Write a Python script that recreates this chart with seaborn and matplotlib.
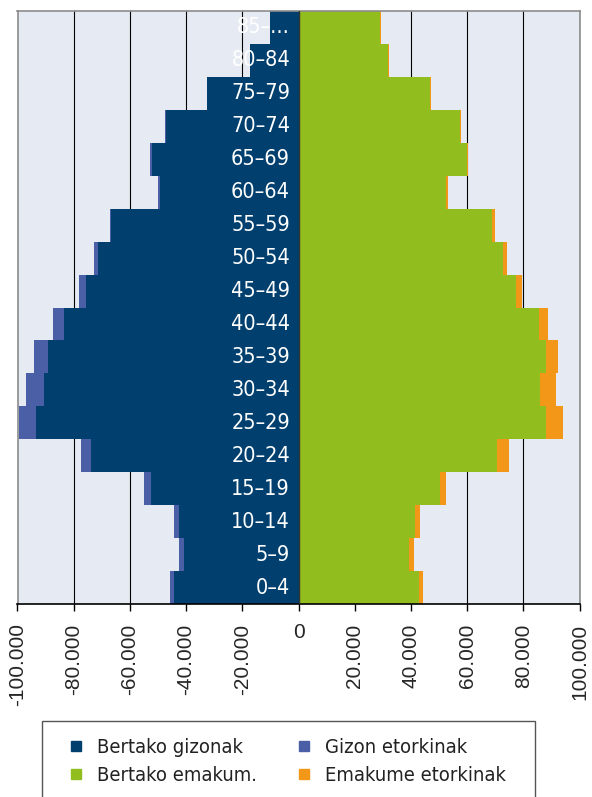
import matplotlib
matplotlib.use("Agg")
import matplotlib.pyplot as plt
from matplotlib.lines import Line2D
from matplotlib.patches import Rectangle
import seaborn as sns
import numpy as np

ages = ['85–...', '80–84', '75–79', '70–74', '65–69', '60–64', '55–59', '50–54', '45–49',
        '40–44', '35–39', '30–34', '25–29', '20–24', '15–19', '10–14', '5–9', '0–4']
men_native = [10000, 17100, 32400, 47100, 52300, 49400, 66800, 71300, 75700,
              83600, 89300, 90400, 93300, 73700, 52500, 42500, 40700, 44300]
men_immigrant = [200, 200, 300, 400, 600, 600, 400, 1400, 2500,
                 3600, 5000, 6400, 6300, 3800, 2500, 1800, 1800, 1400]
women_native = [29000, 32000, 46900, 57600, 59800, 52600, 69000, 72600, 77500,
                85600, 88200, 86100, 88200, 70700, 50400, 41400, 39300, 42900]
women_immigrant = [300, 300, 400, 300, 600, 600, 1000, 1700, 2100,
                   3300, 4300, 5700, 6100, 4300, 2100, 1800, 1800, 1400]
x_ticks = [-100000, -80000, -60000, -40000, -20000, 0, 20000, 40000, 60000, 80000, 100000]
legend_labels = ['Bertako gizonak', 'Bertako emakum.', 'Gizon etorkinak', 'Emakume etorkinak']

NAVY = '#003F6E'
BLUE = '#4A5FA5'
GREEN = '#92BD1F'
ORANGE = '#F39718'

sns.set_style('white')
plt.rcParams['font.family'] = ['Liberation Sans', 'DejaVu Sans']

fig = plt.figure(figsize=(5.92, 7.97), dpi=100)
ax = fig.add_axes([17.5 / 592, 1 - 604 / 797, 562 / 592, 593 / 797])
ax.set_facecolor('#E6EBF3')

men_total = -(np.array(men_native) + np.array(men_immigrant))
women_total = np.array(women_native) + np.array(women_immigrant)

kw = dict(y=ages, orient='h', width=1.0, saturation=1, linewidth=0, ax=ax, zorder=2)
sns.barplot(x=men_total, color=BLUE, **kw)
sns.barplot(x=-np.array(men_native), color=NAVY, **kw)
sns.barplot(x=women_total, color=ORANGE, **kw)
sns.barplot(x=np.array(women_native), color=GREEN, **kw)

ax.set_xlim(-100000, 100000)
ax.set_ylim(len(ages) - 0.5, -0.5)
for t in x_ticks:
    ax.axvline(t, color='black', lw=0.8, zorder=1)
ax.axvline(0, color='#333333', lw=1.0, zorder=3)

ax.set_xticks(x_ticks)
ax.set_xticklabels([f'{t:,}'.replace(',', '.') for t in x_ticks], fontsize=15)
for lab, t in zip(ax.get_xticklabels(), x_ticks):
    lab.set_rotation(0 if t == 0 else 90)
ax.tick_params(axis='x', length=5, width=1, color='black', pad=9, bottom=True)
ax.set_yticks([])
ax.set_xlabel('')
ax.set_ylabel('')

for side in ['left', 'right', 'top']:
    ax.spines[side].set_color('#8C8C8C')
    ax.spines[side].set_linewidth(1.2)
ax.spines['bottom'].set_color('black')
ax.spines['bottom'].set_linewidth(1.2)

for i, age in enumerate(ages):
    ax.text(-3000, i, age, color='white', ha='right', va='center',
            fontsize=15.5, family='DejaVu Sans', fontstretch='condensed', zorder=4)

colors = [NAVY, GREEN, BLUE, ORANGE]
handles = [Line2D([], [], marker='s', linestyle='none', markersize=7.5,
                  markerfacecolor=c, markeredgecolor=c) for c in colors]
fig.legend(handles, legend_labels, ncol=2, frameon=False, loc='upper left',
           bbox_to_anchor=(52 / 592, 1 - 720 / 797),
           prop={'family': 'DejaVu Sans', 'stretch': 'condensed', 'size': 14.5},
           labelcolor='#222222', handlelength=0.6, handletextpad=0.75,
           columnspacing=2.0, labelspacing=0.45)
fig.add_artist(Rectangle((42 / 592, -0.02), 493 / 592, 0.02 + 1 - 721 / 797,
                         transform=fig.transFigure, fill=False,
                         edgecolor='#555555', lw=1.0))

fig.savefig('out.png', dpi=100)
